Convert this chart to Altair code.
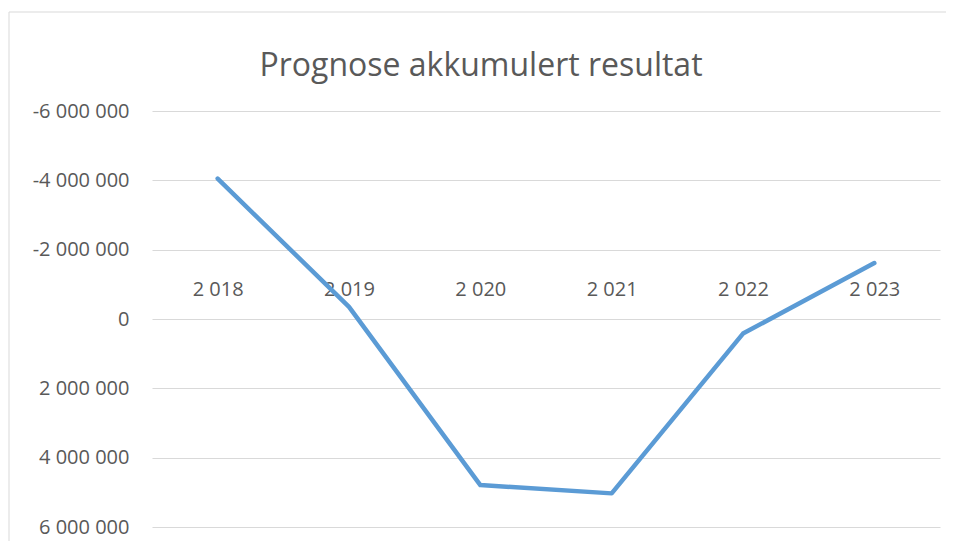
import altair as alt
import pandas as pd

years = ["2 018", "2 019", "2 020", "2 021", "2 022", "2 023"]
values = [-4050000, -350000, 4790000, 5030000, 420000, -1615000]
y_ticks = [-6000000, -4000000, -2000000, 0, 2000000, 4000000, 6000000]

df = pd.DataFrame({"year": years, "value": values})

FONT = "Open Sans"
GRAY = "#595959"
BORDER = "#d9d9d9"

one = pd.DataFrame({"k": [0]})
frame_top = alt.Chart(one).mark_rule(color=BORDER, strokeWidth=1).encode(
    x=alt.value(-143), x2=alt.value(794), y=alt.value(-99)
)
frame_left = alt.Chart(one).mark_rule(color=BORDER, strokeWidth=1).encode(
    x=alt.value(-143), y=alt.value(-99), y2=alt.value(430)
)

line = alt.Chart(df).mark_line(color="#5b9bd5", strokeWidth=4.5, strokeCap="round", strokeJoin="round").encode(
    x=alt.X("year:N", sort=years, title=None,
            scale=alt.Scale(paddingInner=0, paddingOuter=0.5),
            axis=alt.Axis(orient="top", offset=-208, domain=False, ticks=False,
                          labelAngle=0, labelFont=FONT, labelFontSize=20,
                          labelColor=GRAY, labelPadding=20, grid=False)),
    y=alt.Y("value:Q", title=None,
            scale=alt.Scale(domain=[-6000000, 6000000], reverse=True, nice=False),
            axis=alt.Axis(values=y_ticks, format=",d", domain=False, ticks=False,
                          labelFont=FONT, labelFontSize=20, labelColor=GRAY,
                          labelPadding=23, gridColor="#d9d9d9", gridWidth=1.2)),
)

chart = alt.layer(frame_top, frame_left, line).properties(
    width=788, height=416,
    autosize=alt.AutoSizeParams(type="none"),
    padding={"left": 144, "top": 103, "right": 6, "bottom": 15},
    title=alt.TitleParams("Prognose akkumulert resultat", font=FONT, fontSize=32,
                          fontWeight="normal", color=GRAY, anchor="middle",
                          baseline="alphabetic", offset=0, dy=96, dx=-65),
).configure(
    locale={"number": {"decimal": ",", "thousands": " ", "grouping": [3],
                       "currency": ["", " kr"], "minus": "-"}},
    background="white",
    view=alt.ViewConfig(stroke=None),
)

chart.save("out.html", embed_options={"renderer": "svg", "actions": False})
